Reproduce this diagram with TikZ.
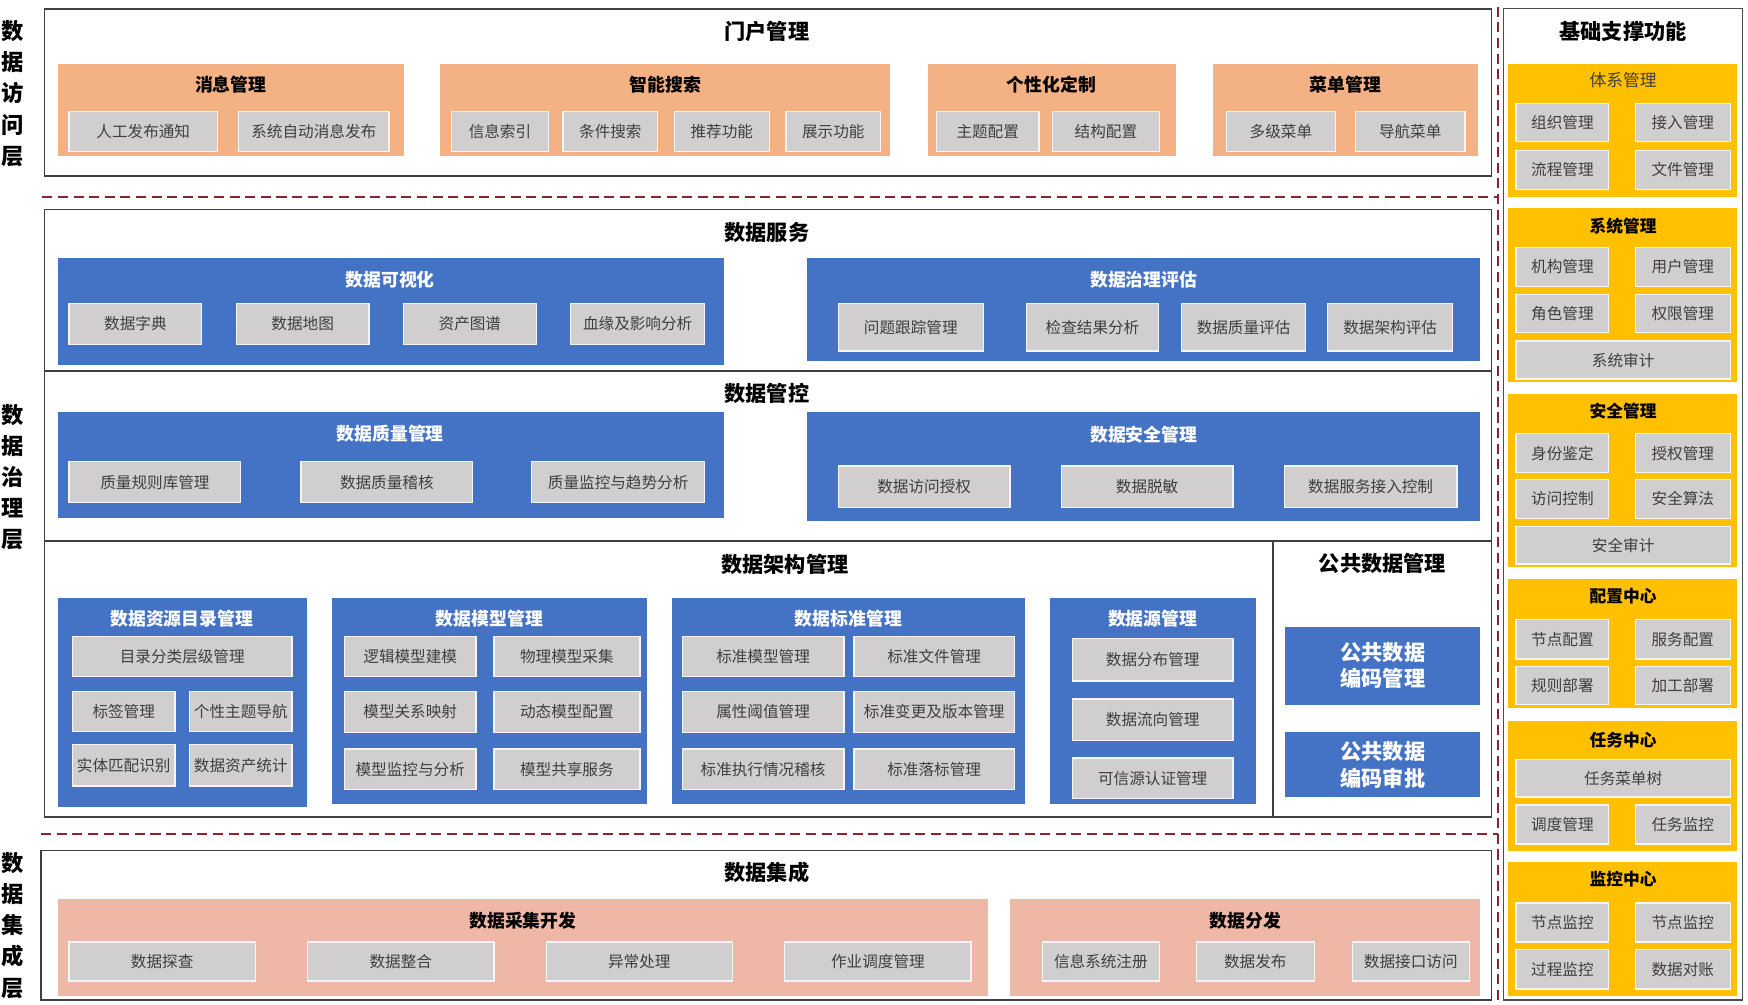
\documentclass[tikz,border=0pt]{standalone}
\usepackage{fontspec}
\setmainfont{Noto Sans CJK SC}
\definecolor{orng}{HTML}{F4B183}
\definecolor{pnk}{HTML}{EFB7A6}
\definecolor{blu}{HTML}{4472C4}
\definecolor{ylw}{HTML}{FFC000}
\definecolor{gry}{HTML}{D0CECE}
\definecolor{dred}{HTML}{8B2331}
\definecolor{txtg}{HTML}{3F3F3F}
\newcommand\rbox[7]{\node[#1,minimum width={#5-#3},minimum height={#6-#4}] (#2) at ({(#3+#5)/2},{(#4+#6)/2}) {#7};}
\tikzset{
  outer/.style={draw=black!75, line width=1.5pt, fill=white},
  og/.style={fill=orng},
  pg/.style={fill=pnk},
  bg/.style={fill=blu},
  yg/.style={fill=ylw},
  item/.style={fill=gry, draw=white!92!gray, line width=1.2pt, text=txtg, font=\fontsize{14}{16}\selectfont},
  gtitle/.style={font=\bfseries\fontsize{16}{18}\selectfont},
  wtitle/.style={font=\bfseries\fontsize{16}{18}\selectfont, text=white},
  ytitle/.style={font=\bfseries\fontsize{15}{17}\selectfont},
  ltitle/.style={font=\bfseries\fontsize{19}{21}\selectfont},
  layer/.style={font=\bfseries\fontsize{20}{28}\selectfont, align=center},
  dsh/.style={draw=dred, line width=2pt, dash pattern=on 9pt off 5pt},
}
\begin{document}
\begin{tikzpicture}[x=1pt,y=-1pt, every node/.style={inner sep=0pt, outer sep=0pt}]
\fill[white] (0,0) rectangle (1568,901);
\useasboundingbox (0,0) rectangle (1568,901);

% layer labels
\node[layer] (L1) at (11,84) {数\\据\\访\\问\\层};
\node[layer] (L2) at (11,428) {数\\据\\治\\理\\层};
\node[layer] (L3) at (11,830) {数\\据\\集\\成\\层};

% ---------- portal ----------
\rbox{outer}{P}{40}{8}{1338}{158}{}
\node[ltitle] (Pt) at (688,28) {门户管理};
\rbox{og}{G1}{52}{57}{362}{140}{}
\node[gtitle] (G1t) at (207,76) {消息管理};
\rbox{item}{G1a}{62}{100}{195}{136}{人工发布通知}
\rbox{item}{G1b}{214}{100}{349}{136}{系统自动消息发布}
\rbox{og}{G2}{395}{57}{798}{140}{}
\node[gtitle] (G2t) at (597,76) {智能搜索};
\rbox{item}{G2a}{405}{100}{492}{136}{信息索引}
\rbox{item}{G2b}{505}{100}{590}{136}{条件搜索}
\rbox{item}{G2c}{605}{100}{690}{136}{推荐功能}
\rbox{item}{G2d}{705}{100}{790}{136}{展示功能}
\rbox{og}{G3}{832}{57}{1055}{140}{}
\node[gtitle] (G3t) at (943,76) {个性化定制};
\rbox{item}{G3a}{840}{100}{932}{136}{主题配置}
\rbox{item}{G3b}{944}{100}{1040}{136}{结构配置}
\rbox{og}{G4}{1088}{57}{1326}{140}{}
\node[gtitle] (G4t) at (1207,76) {菜单管理};
\rbox{item}{G4a}{1100}{100}{1198}{136}{多级菜单}
\rbox{item}{G4b}{1216}{100}{1314}{136}{导航菜单}

\coordinate (d1a) at (38,177);
\coordinate (d1b) at (1344,177);
\draw[dsh] (d1a) -- (d1b);

% ---------- data service ----------
\rbox{outer}{S}{40}{188}{1338}{333}{}
\node[ltitle] (St) at (688,209) {数据服务};
\rbox{bg}{B1}{52}{231}{649}{327}{}
\node[wtitle] (B1t) at (350,251) {数据可视化};
\rbox{item}{B1a}{62}{272}{181}{309}{数据字典}
\rbox{item}{B1b}{212}{272}{331}{309}{数据地图}
\rbox{item}{B1c}{362}{272}{481}{309}{资产图谱}
\rbox{item}{B1d}{512}{272}{632}{309}{血缘及影响分析}
\rbox{bg}{B2}{724}{231}{1328}{324}{}
\node[wtitle] (B2t) at (1026,251) {数据治理评估};
\rbox{item}{B2a}{752}{272}{882}{315}{问题跟踪管理}
\rbox{item}{B2b}{921}{272}{1039}{315}{检查结果分析}
\rbox{item}{B2c}{1060}{272}{1171}{315}{数据质量评估}
\rbox{item}{B2d}{1191}{272}{1303}{315}{数据架构评估}

% ---------- data control ----------
\rbox{outer}{C}{40}{333}{1338}{485}{}
\node[ltitle] (Ct) at (688,353) {数据管控};
\rbox{bg}{B3}{52}{370}{649}{465}{}
\node[wtitle] (B3t) at (350,389) {数据质量管理};
\rbox{item}{B3a}{62}{414}{216}{451}{质量规则库管理}
\rbox{item}{B3b}{270}{414}{424}{451}{数据质量稽核}
\rbox{item}{B3c}{477}{414}{632}{451}{质量监控与趋势分析}
\rbox{bg}{B4}{724}{370}{1328}{467}{}
\node[wtitle] (B4t) at (1026,390) {数据安全管理};
\rbox{item}{B4a}{752}{418}{906}{455}{数据访问授权}
\rbox{item}{B4b}{952}{418}{1106}{455}{数据脱敏}
\rbox{item}{B4c}{1152}{418}{1307}{455}{数据服务接入控制}

% ---------- architecture ----------
\rbox{outer}{A}{40}{485}{1142}{733}{}
\node[ltitle] (At) at (704,506) {数据架构管理};
\rbox{outer}{PB}{1142}{485}{1338}{733}{}
\node[ltitle] (PBt) at (1240,505) {公共数据管理};

\rbox{bg}{B5}{52}{536}{275}{724}{}
\node[wtitle] (B5t) at (163,555) {数据资源目录管理};
\rbox{item}{B5a}{65}{571}{262}{607}{目录分类层级管理}
\rbox{item}{B5b}{65}{620}{157}{656}{标签管理}
\rbox{item}{B5c}{170}{620}{262}{656}{个性主题导航}
\rbox{item}{B5d}{65}{668}{157}{705}{实体匹配识别}
\rbox{item}{B5e}{170}{668}{262}{705}{数据资产统计}

\rbox{bg}{B6}{298}{536}{580}{721}{}
\node[wtitle] (B6t) at (439,555) {数据模型管理};
\rbox{item}{B6a}{309}{571}{427}{607}{逻辑模型建模}
\rbox{item}{B6b}{443}{571}{574}{607}{物理模型采集}
\rbox{item}{B6c}{309}{620}{427}{657}{模型关系映射}
\rbox{item}{B6d}{443}{620}{574}{657}{动态模型配置}
\rbox{item}{B6e}{309}{672}{427}{708}{模型监控与分析}
\rbox{item}{B6f}{443}{672}{574}{708}{模型共享服务}

\rbox{bg}{B7}{603}{536}{919}{721}{}
\node[wtitle] (B7t) at (761,555) {数据标准管理};
\rbox{item}{B7a}{612}{571}{757}{607}{标准模型管理}
\rbox{item}{B7b}{766}{571}{910}{607}{标准文件管理}
\rbox{item}{B7c}{612}{620}{757}{657}{属性阈值管理}
\rbox{item}{B7d}{766}{620}{910}{657}{标准变更及版本管理}
\rbox{item}{B7e}{612}{672}{757}{708}{标准执行情况稽核}
\rbox{item}{B7f}{766}{672}{910}{708}{标准落标管理}

\rbox{bg}{B8}{942}{536}{1127}{721}{}
\node[wtitle] (B8t) at (1034,555) {数据源管理};
\rbox{item}{B8a}{962}{573}{1106}{611}{数据分布管理}
\rbox{item}{B8b}{962}{627}{1106}{664}{数据流向管理}
\rbox{item}{B8c}{962}{680}{1106}{716}{可信源认证管理}

\rbox{bg,text=white,font=\bfseries\fontsize{19}{24}\selectfont,align=center}{B9}{1153}{562}{1328}{632}{公共数据\\编码管理}
\rbox{bg,text=white,font=\bfseries\fontsize{19}{24}\selectfont,align=center}{B10}{1153}{657}{1328}{715}{公共数据\\编码审批}

\coordinate (d2a) at (37,748);
\coordinate (d2b) at (1344,748);
\draw[dsh] (d2a) -- (d2b);

% ---------- integration ----------
\rbox{outer}{I}{37}{763}{1338}{897}{}
\node[ltitle] (It) at (688,783) {数据集成};
\rbox{pg}{K1}{52}{806}{886}{893}{}
\node[gtitle] (K1t) at (469,826) {数据采集开发};
\rbox{item}{K1a}{62}{845}{229}{880}{数据探查}
\rbox{item}{K1b}{276}{845}{443}{880}{数据整合}
\rbox{item}{K1c}{490}{845}{657}{880}{异常处理}
\rbox{item}{K1d}{704}{845}{871}{880}{作业调度管理}
\rbox{pg}{K2}{906}{806}{1328}{893}{}
\node[gtitle] (K2t) at (1117,826) {数据分发};
\rbox{item}{K2a}{935}{845}{1040}{880}{信息系统注册}
\rbox{item}{K2b}{1073}{845}{1179}{880}{数据发布}
\rbox{item}{K2c}{1213}{845}{1318}{880}{数据接口访问}

% ---------- right panel ----------
\coordinate (dva) at (1344,6);
\coordinate (dvb) at (1344,899);
\draw[dsh] (dva) -- (dvb);
\rbox{draw=black!70,line width=1pt,fill=white}{R}{1349}{8}{1563}{897}{}
\node[ltitle] (Rt) at (1456,28) {基础支撑功能};

\rbox{yg}{Y1}{1353}{57}{1558}{177}{}
\node[text=txtg,font=\fontsize{15}{17}\selectfont] (Y1t) at (1456,72) {体系管理};
\rbox{item}{Y1a}{1360}{93}{1443}{127}{组织管理}
\rbox{item}{Y1b}{1467}{93}{1552}{127}{接入管理}
\rbox{item}{Y1c}{1360}{135}{1443}{170}{流程管理}
\rbox{item}{Y1d}{1467}{135}{1552}{170}{文件管理}

\rbox{yg}{Y2}{1353}{187}{1558}{343}{}
\node[ytitle] (Y2t) at (1456,203) {系统管理};
\rbox{item}{Y2a}{1360}{222}{1443}{257}{机构管理}
\rbox{item}{Y2b}{1467}{222}{1552}{257}{用户管理}
\rbox{item}{Y2c}{1360}{264}{1443}{298}{角色管理}
\rbox{item}{Y2d}{1467}{264}{1552}{298}{权限管理}
\rbox{item}{Y2e}{1360}{306}{1552}{340}{系统审计}

\rbox{yg}{Y3}{1353}{353}{1558}{509}{}
\node[ytitle] (Y3t) at (1456,369) {安全管理};
\rbox{item}{Y3a}{1360}{389}{1443}{424}{身份鉴定}
\rbox{item}{Y3b}{1467}{389}{1552}{424}{授权管理}
\rbox{item}{Y3c}{1360}{430}{1443}{465}{访问控制}
\rbox{item}{Y3d}{1467}{430}{1552}{465}{安全算法}
\rbox{item}{Y3e}{1360}{472}{1552}{506}{安全审计}

\rbox{yg}{Y4}{1353}{519}{1558}{635}{}
\node[ytitle] (Y4t) at (1456,535) {配置中心};
\rbox{item}{Y4a}{1360}{556}{1443}{591}{节点配置}
\rbox{item}{Y4b}{1467}{556}{1552}{591}{服务配置}
\rbox{item}{Y4c}{1360}{598}{1443}{632}{规则部署}
\rbox{item}{Y4d}{1467}{598}{1552}{632}{加工部署}

\rbox{yg}{Y5}{1353}{647}{1558}{763}{}
\node[ytitle] (Y5t) at (1456,664) {任务中心};
\rbox{item}{Y5a}{1360}{681}{1552}{715}{任务菜单树}
\rbox{item}{Y5b}{1360}{722}{1443}{757}{调度管理}
\rbox{item}{Y5c}{1467}{722}{1552}{757}{任务监控}

\rbox{yg}{Y6}{1353}{773}{1558}{893}{}
\node[ytitle] (Y6t) at (1456,789) {监控中心};
\rbox{item}{Y6a}{1360}{810}{1443}{845}{节点监控}
\rbox{item}{Y6b}{1467}{810}{1552}{845}{节点监控}
\rbox{item}{Y6c}{1360}{852}{1443}{887}{过程监控}
\rbox{item}{Y6d}{1467}{852}{1552}{887}{数据对账}
\end{tikzpicture}
\end{document}
